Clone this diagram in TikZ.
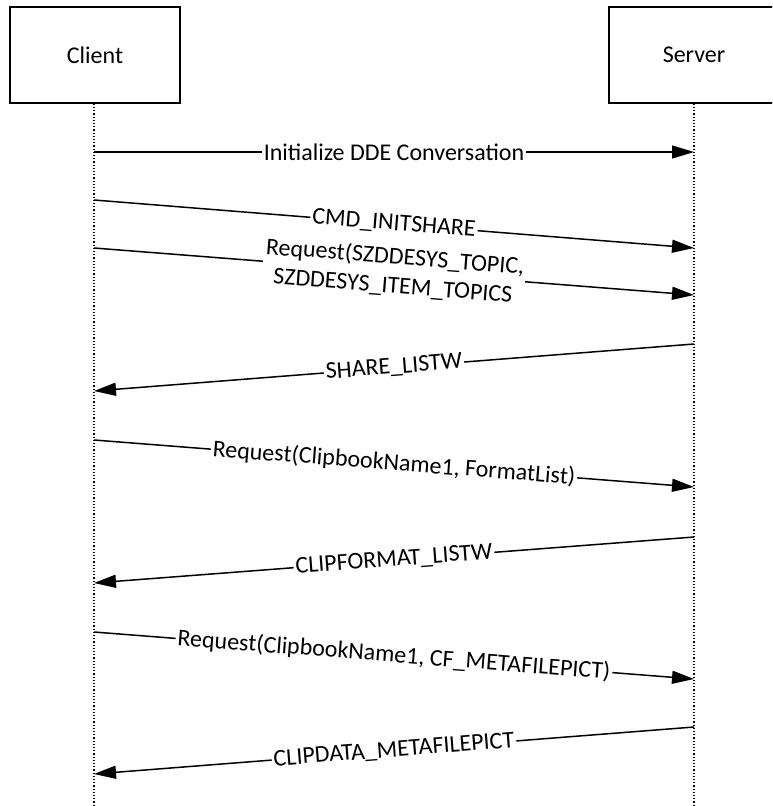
\documentclass[tikz,border=0pt]{standalone}
\usepackage{fontspec}
\setmainfont{Carlito}
\usetikzlibrary{arrows.meta}

\begin{document}
\begin{tikzpicture}[x=1pt,y=-1pt,
  actor/.style={draw,line width=1.5pt,minimum width=170pt,minimum height=96pt,font=\fontsize{24}{29}\selectfont},
  lifeline/.style={line width=1.2pt,dotted},
  msg/.style={line width=1.5pt,-{Triangle[length=22pt,width=13pt]}},
  lbl/.style={fill=white,inner xsep=2pt,inner ysep=0pt,font=\fontsize{24}{29}\selectfont,align=center}]
  \clip (0,0) rectangle (772,806);
  \useasboundingbox (0,0) rectangle (772,806);

  % Participants
  \node[actor] (client) at (95,55) {Client};
  \node[actor] (server) at (694,55) {Server};

  % Lifelines
  \coordinate (cend) at (94,806);
  \coordinate (send) at (694,806);
  \draw[lifeline] (client.south -| cend) -- (cend);
  \draw[lifeline] (server.south) -- (send);

  % Message points
  \coordinate (c1) at (94,152); \coordinate (s1) at (694,152);
  \coordinate (c2) at (94,200); \coordinate (s2) at (694,248);
  \coordinate (c3) at (94,248); \coordinate (s3) at (694,295);
  \coordinate (s4) at (694,344); \coordinate (c4) at (94,391);
  \coordinate (c5) at (94,440); \coordinate (s5) at (694,487);
  \coordinate (s6) at (694,537); \coordinate (c6) at (94,583);
  \coordinate (c7) at (94,632); \coordinate (s7) at (694,679);
  \coordinate (s8) at (694,727); \coordinate (c8) at (94,774);

  % Messages
  \draw[msg] (c1) -- node[lbl] {Initialize DDE Conversation} (s1);
  \draw[msg] (c2) -- node[lbl,sloped] {CMD\_INITSHARE} (s2);
  \draw[msg] (c3) -- node[lbl,sloped] {Request(SZDDESYS\_TOPIC,\\SZDDESYS\_ITEM\_TOPICS} (s3);
  \draw[msg] (s4) -- node[lbl,sloped] {SHARE\_LISTW} (c4);
  \draw[msg] (c5) -- node[lbl,sloped] {Request(ClipbookName1, FormatList)} (s5);
  \draw[msg] (s6) -- node[lbl,sloped] {CLIPFORMAT\_LISTW} (c6);
  \draw[msg] (c7) -- node[lbl,sloped] {Request(ClipbookName1, CF\_METAFILEPICT)} (s7);
  \draw[msg] (s8) -- node[lbl,sloped] {CLIPDATA\_METAFILEPICT} (c8);
\end{tikzpicture}
\end{document}
